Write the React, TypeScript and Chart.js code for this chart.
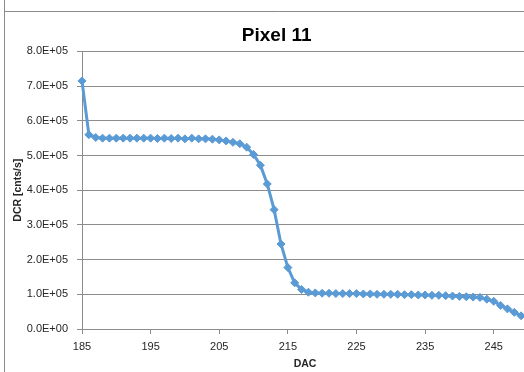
import React, { useEffect, useRef } from 'react';
import { Chart, registerables } from 'chart.js';

Chart.register(...registerables);

const CHART_TITLE = 'Pixel 11';
const X_TITLE = 'DAC';
const Y_TITLE = 'DCR [cnts/s]';

const dac = [
  185, 186, 187, 188, 189, 190, 191, 192, 193, 194,
  195, 196, 197, 198, 199, 200, 201, 202, 203, 204,
  205, 206, 207, 208, 209, 210, 211, 212, 213, 214,
  215, 216, 217, 218, 219, 220, 221, 222, 223, 224,
  225, 226, 227, 228, 229, 230, 231, 232, 233, 234,
  235, 236, 237, 238, 239, 240, 241, 242, 243, 244,
  245, 246, 247, 248, 249,
];

const dcr = [
  715000, 560000, 552000, 550000, 550000, 550000, 550000, 550000, 550000, 550000,
  550000, 549000, 550000, 549000, 550000, 548000, 550000, 548000, 548000, 547000,
  545000, 542000, 538000, 534000, 524000, 503000, 472000, 418000, 344000, 245000,
  177000, 133000, 114000, 106000, 104000, 103000, 103000, 102000, 102000, 102000,
  102000, 101000, 101000, 100000, 100000, 100000, 100000, 99000, 99000, 98000,
  98000, 97000, 97000, 96000, 95000, 94000, 93000, 92000, 91000, 86000,
  80000, 68000, 58000, 48000, 38000,
];

const X_MIN = 185;
const X_MAX = 250;
const xTickValues = [185, 195, 205, 215, 225, 235, 245];
const yTickValues = [0, 100000, 200000, 300000, 400000, 500000, 600000, 700000, 800000];
const yTickLabels = [
  '0.0E+00', '1.0E+05', '2.0E+05', '3.0E+05', '4.0E+05',
  '5.0E+05', '6.0E+05', '7.0E+05', '8.0E+05',
];

const FONT = '"Liberation Sans", Arial, sans-serif';
const BLUE = '#5b9bd5';
const GRID = '#8c8c8c';
const TEXT = '#262626';

export default function App() {
  const ref = useRef<HTMLCanvasElement>(null);

  useEffect(() => {
    if (!ref.current) return;
    const frame = {
      id: 'frame',
      beforeDraw(chart: any) {
        const ctx = chart.ctx;
        ctx.save();
        ctx.fillStyle = '#ffffff';
        ctx.fillRect(0, 0, chart.width, chart.height);
        ctx.strokeStyle = '#8a8a8a';
        ctx.lineWidth = 1;
        ctx.beginPath();
        ctx.moveTo(4.5, 0);
        ctx.lineTo(4.5, chart.height);
        ctx.moveTo(4.5, 11.5);
        ctx.lineTo(chart.width, 11.5);
        ctx.stroke();
        ctx.restore();
      },
      afterDraw(chart: any) {
        const ctx = chart.ctx;
        ctx.save();
        ctx.fillStyle = '#000';
        ctx.font = `bold 19px ${FONT}`;
        ctx.textAlign = 'center';
        ctx.textBaseline = 'middle';
        ctx.fillText(CHART_TITLE, 276.7, 35.4);
        ctx.restore();
      },
    };

    const chart = new Chart(ref.current, {
      type: 'line',
      data: {
        datasets: [
          {
            data: dac.map((x, i) => ({ x, y: dcr[i] })),
            borderColor: BLUE,
            backgroundColor: BLUE,
            borderWidth: 3,
            pointStyle: 'rectRot',
            pointRadius: 4,
            pointBackgroundColor: BLUE,
            pointBorderColor: BLUE,
            pointBorderWidth: 1,
            tension: 0,
            clip: false,
          },
        ],
      },
      options: {
        responsive: false,
        animation: false,
        devicePixelRatio: 1,
        layout: { padding: { top: 51.4, left: 0, right: 25, bottom: 0 } },
        plugins: {
          legend: { display: false },
          tooltip: { enabled: false },
          title: { display: false },
        },
        scales: {
          x: {
            type: 'linear',
            min: X_MIN,
            max: X_MAX,
            afterBuildTicks: (scale: any) => {
              scale.ticks = xTickValues.map((v) => ({ value: v }));
            },
            afterFit: (scale: any) => {
              scale.height = 61;
            },
            ticks: {
              color: TEXT,
              font: { family: FONT, size: 11 },
              padding: 6,
              maxRotation: 0,
              autoSkip: false,
            },
            grid: { drawOnChartArea: false, drawTicks: true, tickLength: 5, color: GRID },
            border: { display: true, color: GRID, width: 1 },
            title: {
              display: true,
              text: X_TITLE,
              color: TEXT,
              font: { family: FONT, size: 10.5, weight: 'bold' },
              padding: { top: 0, bottom: 20 },
            },
          },
          y: {
            type: 'linear',
            min: 0,
            max: 800000,
            afterBuildTicks: (scale: any) => {
              scale.ticks = yTickValues.map((v) => ({ value: v }));
            },
            afterFit: (scale: any) => {
              scale.width = 82;
            },
            ticks: {
              color: TEXT,
              font: { family: FONT, size: 11 },
              padding: 9,
              autoSkip: false,
              callback: (_v: any, i: number) => yTickLabels[i],
            },
            grid: { drawOnChartArea: true, drawTicks: true, tickLength: 5, color: GRID },
            border: { display: true, color: GRID, width: 1 },
            title: {
              display: true,
              text: Y_TITLE,
              color: TEXT,
              font: { family: FONT, size: 10.5, weight: 'bold' },
              padding: { top: 12, bottom: 0 },
            },
          },
        },
      },
      plugins: [frame],
    } as any);

    return () => chart.destroy();
  }, []);

  return (
    <div
      style={{
        position: 'fixed',
        left: 0,
        top: 0,
        width: 524,
        height: 372,
        overflow: 'hidden',
        background: '#fff',
      }}
    >
      <canvas
        ref={ref}
        width={553}
        height={390}
        style={{ display: 'block', width: 553, height: 390 }}
      />
    </div>
  );
}
